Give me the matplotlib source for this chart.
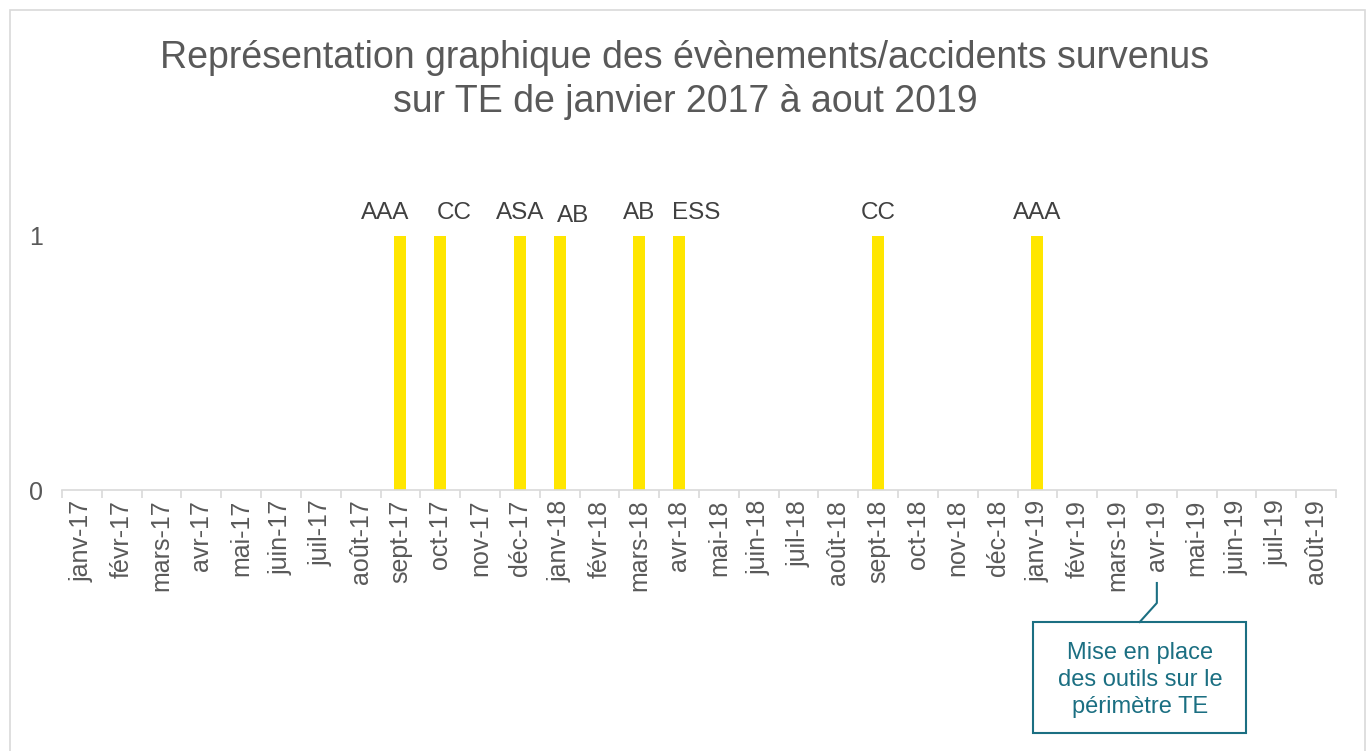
import numpy as np
import matplotlib.pyplot as plt
from matplotlib.patches import Rectangle
from matplotlib.transforms import blended_transform_factory

plt.rcParams['font.family'] = ['Liberation Sans', 'DejaVu Sans']

months = ['janv-17', 'févr-17', 'mars-17', 'avr-17', 'mai-17', 'juin-17', 'juil-17', 'août-17',
          'sept-17', 'oct-17', 'nov-17', 'déc-17', 'janv-18', 'févr-18', 'mars-18', 'avr-18',
          'mai-18', 'juin-18', 'juil-18', 'août-18', 'sept-18', 'oct-18', 'nov-18', 'déc-18',
          'janv-19', 'févr-19', 'mars-19', 'avr-19', 'mai-19', 'juin-19', 'juil-19', 'août-19']
events = [0, 0, 0, 0, 0, 0, 0, 0, 1, 1, 0, 1, 1, 0, 1, 1,
          0, 0, 0, 0, 1, 0, 0, 0, 1, 0, 0, 0, 0, 0, 0, 0]
event_labels = ['', '', '', '', '', '', '', '', 'AAA', 'CC', '', 'ASA', 'AB', '', 'AB', 'ESS',
                '', '', '', '', 'CC', '', '', '', 'AAA', '', '', '', '', '', '', '']
callout_month = 'avr-19'
callout_text = 'Mise en place\ndes outils sur le\npérimètre TE'

# label nudges (points), like the hand-moved labels in the original
nudge = {8: (-11, 0), 9: (10, 0), 12: (10, -2), 15: (12, 0)}

grey = '#595959'
teal = '#1B6F82'

fig = plt.figure(figsize=(13.7, 7.51), dpi=100)
fig.patches.append(Rectangle((10/1370, -0.05), 1355/1370, 1.05 - 10/751, transform=fig.transFigure,
                             fill=False, edgecolor='#D9D9D9', linewidth=1.2))
ax = fig.add_axes([62/1370, 261/751, 1274/1370, 318/751])

x = np.arange(len(months))
ax.bar(x, events, width=0.3, color='#FFE600')
for xi, v, lab in zip(x, events, event_labels):
    if lab:
        dx, dy = nudge.get(xi, (0, 0))
        ax.annotate(lab, (xi, v), xytext=(dx, 8 + dy), textcoords='offset points',
                    ha='center', va='bottom', fontsize=17.5, color='#404040')

ax.set_xlim(-0.5, len(months) - 0.5)
ax.set_ylim(0, 1.25)
ax.set_yticks([0, 1])
ax.set_yticklabels(['0', '1'])
ax.set_xticks(x)
ax.set_xticklabels(months, rotation=90)
ax.set_xticks(np.arange(len(months) + 1) - 0.5, minor=True)
ax.tick_params(axis='x', which='major', length=0, pad=7, labelsize=18, labelcolor=grey)
ax.tick_params(axis='x', which='minor', length=6, color='#D9D9D9', width=1.2)
ax.tick_params(axis='y', length=0, pad=14, labelsize=18, labelcolor=grey)
for s in ['top', 'right', 'left']:
    ax.spines[s].set_visible(False)
ax.spines['bottom'].set_color('#D9D9D9')
ax.spines['bottom'].set_linewidth(1.2)

fig.text(0.5, 1 - 80/751, 'Représentation graphique des évènements/accidents survenus\nsur TE de janvier 2017 à aout 2019',
         ha='center', va='center', fontsize=27, color=grey, linespacing=1.32)

# callout
ci = months.index(callout_month)
tr = blended_transform_factory(ax.transData, fig.transFigure)
ax.plot([ci, ci, ci - 0.43], [1 - 583/751, 1 - 603/751, 1 - 622/751], color=teal, lw=1.5,
        transform=tr, clip_on=False)
fig.patches.append(Rectangle((1033/1370, 1 - 733/751), 213/1370, 111/751, transform=fig.transFigure,
                             fill=False, edgecolor=teal, linewidth=1.5))
fig.text(1140/1370, 1 - 680/751, callout_text, ha='center', va='center', fontsize=17,
         color=teal, linespacing=1.3)

plt.savefig('out.png')
